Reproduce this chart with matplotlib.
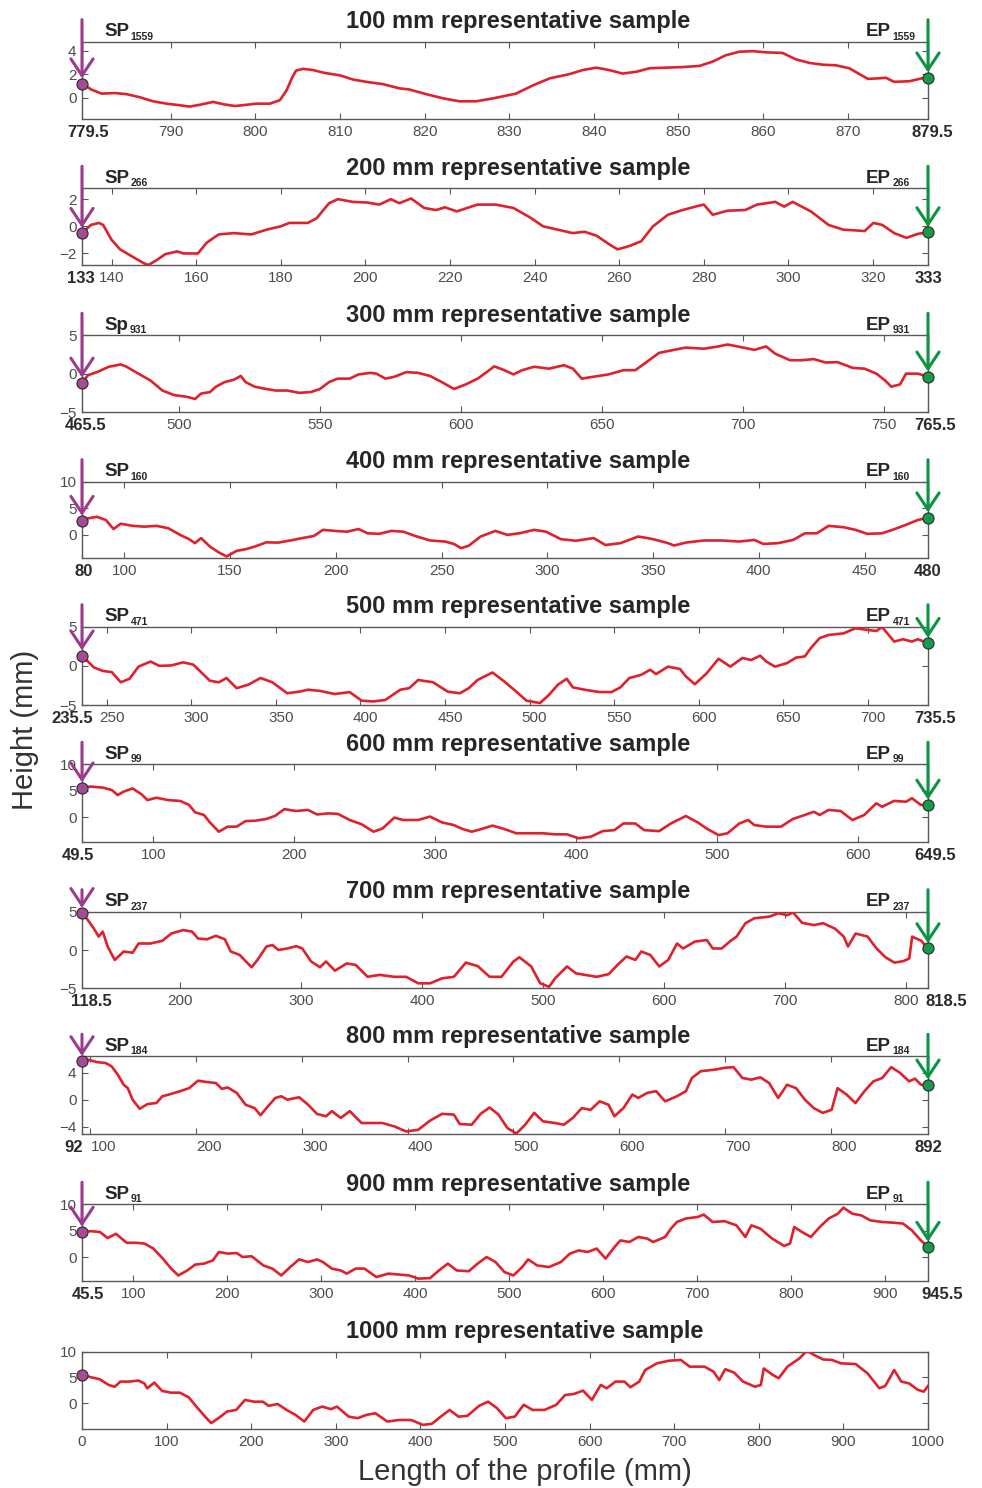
import matplotlib.pyplot as plt
from matplotlib.transforms import ScaledTranslation

plt.rcParams['font.family'] = ['Liberation Sans', 'DejaVu Sans']

# (position mm, height mm) read along each representative sample
p100 = [(779.5, 1.2), (780.6, 0.7), (781.8, 0.35), (783.4, 0.4), (784.8, 0.3), (786.3, 0.05),
        (787.9, -0.3), (789.5, -0.5), (790.7, -0.6), (792.2, -0.75), (793.4, -0.6), (795.0, -0.35),
        (796.2, -0.55), (797.6, -0.7), (798.9, -0.6), (800.1, -0.5), (801.7, -0.5), (802.9, -0.2),
        (803.7, 0.65), (804.3, 1.65), (804.8, 2.3), (805.6, 2.45), (806.8, 2.35), (808.2, 2.1),
        (810.0, 1.9), (811.5, 1.55), (813.1, 1.35), (815.1, 1.15), (817.0, 0.8), (818.2, 0.7),
        (820.2, 0.3), (822.2, -0.05), (824.1, -0.3), (826.1, -0.3), (828.1, -0.05), (830.8, 0.35),
        (832.8, 1.05), (834.8, 1.65), (837.1, 2.0), (838.7, 2.35), (840.3, 2.55), (841.8, 2.35),
        (843.4, 2.05), (845.0, 2.2), (846.6, 2.5), (848.5, 2.55), (850.5, 2.6), (852.5, 2.7),
        (854.0, 3.05), (855.6, 3.6), (857.2, 3.9), (858.8, 3.95), (860.3, 3.85), (862.3, 3.8),
        (863.9, 3.25), (865.5, 2.95), (867.1, 2.8), (868.6, 2.75), (870.2, 2.5), (871.4, 2.0),
        (872.4, 1.6), (873.8, 1.65), (874.5, 1.7), (875.5, 1.35), (877.3, 1.4), (878.8, 1.65),
        (879.5, 1.7)]

p200 = [(133, -0.5), (135.1, 0.1), (137, 0.25), (138, 0.1), (140, -1.0), (142, -1.7), (145, -2.25),
        (147.8, -2.75), (148.7, -2.85), (150.6, -2.5), (152.7, -2.05), (155.5, -1.85), (157, -2.0),
        (160.4, -2.0), (162.5, -1.2), (165.3, -0.6), (168.9, -0.5), (173, -0.6), (176.6, -0.25),
        (180, 0), (182, 0.25), (186.4, 0.25), (188.5, 0.6), (191.4, 1.7), (193.5, 2.0), (197, 1.8),
        (200.5, 1.75), (203.3, 1.6), (206, 2.0), (208, 1.7), (210.8, 2.05), (213.9, 1.35),
        (216.7, 1.2), (218.8, 1.4), (221.6, 1.1), (226.5, 1.6), (230.8, 1.6), (235, 1.35),
        (239.2, 0.6), (242, 0), (246.2, -0.3), (249, -0.5), (251.8, -0.4), (254.7, -0.7),
        (257.5, -1.3), (259.6, -1.7), (262.4, -1.45), (265.2, -1.1), (268, 0), (271.5, 0.85),
        (275, 1.2), (278.6, 1.5), (280, 1.6), (282.1, 0.85), (285.6, 1.15), (289.8, 1.2),
        (292.6, 1.6), (296.9, 1.8), (299, 1.45), (301, 1.8), (305.3, 1.1), (309.5, 0.1),
        (313, -0.25), (315.9, -0.3), (318, -0.35), (320.1, 0.25), (322.2, 0.1), (325, -0.5),
        (327.9, -0.85), (330.7, -0.55), (333, -0.45)]

p300 = [(465.5, -1.2), (467.6, -0.2), (470.8, 0.2), (475, 0.9), (479.2, 1.2), (481.3, 0.9),
        (485.5, 0), (489.8, -0.9), (494, -2.2), (498.2, -2.8), (502.4, -3.0), (505.6, -3.3),
        (507.7, -2.6), (510.9, -2.4), (513, -1.7), (516.1, -1.1), (519.3, -0.8), (521.8, -0.3),
        (523.5, -1.1), (526.7, -1.7), (530.9, -2.0), (534.1, -2.2), (538.3, -2.2), (542.5, -2.5),
        (546.7, -2.4), (549.9, -2.0), (553.1, -1.1), (556.2, -0.65), (560.4, -0.65), (563.6, -0.1),
        (567.8, 0.1), (569.9, 0), (573.1, -0.65), (576.3, -0.4), (580.5, 0.2), (584.7, 0.1),
        (588.9, -0.3), (593.1, -1.1), (597.4, -2.0), (601.6, -1.4), (605.8, -0.65), (609, 0.2),
        (611.7, 0.95), (615.3, 0.45), (618.5, -0.1), (621.6, 0.45), (625.8, 0.9), (631.1, 0.65),
        (636.4, 1.1), (639.6, 0.65), (642.7, -0.65), (646.9, -0.4), (652.2, -0.1), (657.5, 0.45),
        (661.7, 0.45), (664.9, 1.3), (670.1, 2.7), (675.4, 3.1), (679.6, 3.4), (686, 3.25),
        (691.2, 3.55), (694.4, 3.8), (698.6, 3.5), (703.9, 3.1), (708.1, 3.55), (711.3, 2.6),
        (716.6, 1.75), (720.8, 1.75), (725, 1.9), (729.2, 1.45), (733.4, 1.5), (738.8, 0.75),
        (743, 0.65), (747.2, 0), (750.3, -0.9), (752.5, -1.7), (755.6, -1.4), (757.7, 0),
        (761.9, 0), (765.5, -0.4)]

p400 = [(80, 2.6), (82.8, 3.1), (87, 3.4), (91.3, 2.8), (94.9, 1.1), (98.3, 2.1), (103.9, 1.7),
        (109.5, 1.55), (115.2, 1.7), (120.8, 1.25), (126.4, 0), (130.6, -0.8), (133.4, -1.55),
        (136.3, -0.6), (140.5, -2.2), (144.7, -3.3), (148.4, -4.05), (153.1, -3.0), (157.4, -2.7),
        (161.6, -2.2), (167.2, -1.4), (172.8, -1.45), (178.5, -1.05), (184.1, -0.6), (189.7, -0.2),
        (193.9, 0.95), (199.5, 0.75), (205.2, 0.6), (210.8, 1.1), (215, 0.3), (220.6, 0.2),
        (226.3, 0.75), (231.9, 0.6), (237.5, -0.2), (244.6, -1.05), (251.6, -1.25), (255.8, -1.7),
        (259.2, -2.5), (262.8, -2.05), (268.5, -0.3), (275.5, 0.75), (281.1, 0), (286.8, 0.3),
        (293.8, 0.95), (299.4, 0.6), (306.4, -0.8), (313.5, -1.1), (321.9, -0.6), (327.5, -1.9),
        (334.6, -1.55), (343, -0.3), (350, -0.8), (357.1, -1.55), (359.9, -2.0), (365.5, -1.45),
        (374, -1.05), (382.4, -1.05), (390.8, -1.25), (397.9, -0.95), (402.1, -1.7), (409.1, -1.55),
        (416.2, -0.95), (421.8, 0.3), (427.4, 0.3), (433, 1.7), (440, 1.45), (445.7, 0.95),
        (451.3, 0.2), (458.3, 0.3), (463.9, 1.05), (469.6, 1.9), (475.2, 2.8), (480, 3.25)]

p500 = [(235.5, 1.3), (239, 0.55), (242.5, -0.2), (247.8, -0.65), (253.1, -0.8), (258.4, -2.1),
        (263.6, -1.65), (268.9, -0.1), (276, 0.55), (281.2, 0), (288.2, 0.05), (295.3, 0.45),
        (301.3, 0.15), (305.8, -0.8), (311.1, -1.9), (316.4, -2.1), (320.9, -1.55), (326.9, -2.85),
        (333.9, -2.4), (341, -1.55), (348, -2.1), (356.8, -3.5), (363.8, -3.3), (369.1, -3.05),
        (376.1, -3.2), (384.9, -3.6), (393.7, -3.35), (400.8, -4.45), (407.8, -4.55), (414.8, -4.35),
        (423.6, -3.05), (428.9, -2.85), (434.2, -1.8), (443, -2.1), (451.7, -3.3), (458.8, -3.5),
        (464.1, -2.85), (469.3, -1.8), (478.1, -0.85), (485.1, -2.0), (492.2, -3.3), (498.2, -4.45),
        (506.2, -4.75), (511.5, -3.7), (516.8, -2.4), (522, -1.65), (525.6, -2.75), (532.6, -3.05),
        (541.4, -3.35), (548.4, -3.35), (553.7, -2.75), (559, -1.55), (566, -1.15), (571.3, -0.5),
        (574.8, -1.05), (581.8, -0.1), (588.9, -0.4), (592.4, -1.35), (597.7, -2.35), (604.7, -0.95),
        (611.7, 0.9), (618.7, -0.1), (625.8, 1.0), (631, 0.75), (636.3, 1.3), (639.9, 0.55),
        (645.1, -0.1), (652.2, 0.35), (657.5, 1.05), (662.7, 1.2), (666.2, 2.25), (671.5, 3.55),
        (676.8, 3.95), (685.6, 4.15), (692.6, 4.8), (699.6, 4.6), (704.9, 4.45), (708.4, 4.95),
        (715.5, 3.1), (720.7, 3.4), (726, 3.1), (729.5, 3.4), (735.5, 2.9)]

p600 = [(49.5, 5.6), (55.8, 5.8), (64.3, 5.6), (70.6, 5.15), (74.8, 4.2), (79, 4.85), (85.4, 5.45),
        (91.7, 4.35), (95.9, 3.25), (102.2, 3.7), (110.7, 3.25), (119.1, 3.1), (125.4, 2.35),
        (129.7, 0.95), (136, 0.45), (140.2, -0.95), (146.5, -2.7), (152.9, -1.75), (159.2, -1.75),
        (165.5, -0.7), (171.9, -0.65), (180.3, -0.3), (186.6, 0.3), (193, 1.55), (201.4, 1.2),
        (209.8, 1.4), (216.2, 0.55), (224.6, 0.75), (231, 0.65), (239.4, -0.5), (247.8, -1.3),
        (256.2, -2.7), (262.6, -2.1), (271, -0.05), (277.4, -0.5), (287.9, -0.5), (296.3, 0.15),
        (304.8, -0.95), (313.2, -1.45), (319.5, -2.2), (325.9, -2.7), (332.2, -2.25), (340.6, -1.55),
        (349, -2.2), (357.5, -3.0), (365.9, -3.0), (376.5, -3.0), (384.9, -3.2), (393.4, -3.2),
        (401.8, -3.95), (410.3, -3.65), (418.7, -2.6), (427.1, -2.4), (433.5, -1.15), (441.9, -1.15),
        (448.2, -2.4), (458.8, -2.6), (467.2, -1.15), (477.7, 0.25), (486.2, -0.95), (492.5, -2.1),
        (500.9, -3.35), (507.3, -3.0), (515.7, -1.15), (522, -0.5), (526.3, -1.45), (534.7, -1.75),
        (545.2, -1.75), (553.7, -0.3), (562.1, 0.45), (568.5, 1.05), (572.7, 0.45), (579, 1.4),
        (587.5, 1.2), (595.9, -0.5), (604.3, 0.45), (612.8, 2.65), (617, 2.0), (625.4, 3.1),
        (633.9, 2.95), (638.1, 3.6), (644.4, 2.35), (649.5, 2.35)]

p700 = [(118.5, 4.8), (123.4, 3.9), (128.3, 2.8), (132.3, 1.75), (135.7, 2.4), (139.7, 0.45),
        (145.6, -1.3), (153, -0.2), (160.4, -0.35), (165.3, 0.85), (175.1, 0.85), (185, 1.2),
        (192.4, 2.15), (202.2, 2.6), (209.6, 2.4), (214.5, 1.5), (221.9, 1.4), (229.3, 1.85),
        (236.7, 1.4), (241.6, -0.2), (249, -0.65), (258.8, -2.25), (263.7, -1.3), (271.1, 0.45),
        (276.1, 0.65), (281, 0), (288.4, 0.2), (295.8, 0.5), (300.7, 0.2), (308.1, -1.5),
        (315.4, -2.25), (320.4, -1.5), (327.8, -2.7), (337.6, -1.75), (345, -1.95), (354.8, -3.5),
        (364.7, -3.25), (377, -3.5), (386.8, -3.5), (396.7, -4.35), (406.5, -4.35), (416.4, -3.7),
        (426.2, -3.5), (436.1, -1.65), (445.9, -2.1), (455.8, -3.5), (465.6, -3.5), (475.5, -1.5),
        (480.4, -0.95), (490.2, -2.15), (497.6, -4.35), (505, -4.8), (509.9, -3.7), (519.8, -2.15),
        (527.2, -3.05), (534.6, -3.25), (544.4, -3.5), (554.3, -3.15), (561.6, -1.95), (569, -0.85),
        (576.4, -1.3), (581.3, -0.2), (588.7, -0.65), (596.1, -2.15), (603.5, -1.3), (610.9, 0.85),
        (615.8, 0.2), (625.7, 1.1), (635.5, 1.3), (640.4, 0.2), (647.8, 0.2), (655.2, 1.2),
        (660.1, 1.75), (667.5, 3.5), (674.9, 4.15), (687.2, 4.35), (694.6, 4.8), (702, 4.55),
        (706.9, 4.9), (714.3, 3.55), (724.2, 3.25), (731.6, 3.5), (741.4, 2.8), (748.8, 1.75),
        (752.3, 0.45), (758.6, 2.15), (768.5, 1.75), (775.9, 0.2), (783.3, -0.95), (790.7, -1.65),
        (798.1, -1.45), (803, -1.1), (805.4, 1.75), (812.9, 1.2), (818.5, 0.2)]

p800 = [(92, 5.65), (97.6, 5.9), (106, 5.55), (114.5, 5.4), (120.1, 4.9), (125.8, 3.7), (131.4, 2.2),
        (135.3, 1.7), (139.8, 0), (146.6, -1.35), (153.9, -0.65), (162.3, -0.5), (168, 0.5),
        (176.4, 0.85), (184.8, 1.25), (193.3, 1.7), (201.7, 2.8), (210.2, 2.6), (218.6, 2.45),
        (224.2, 1.6), (229.8, 1.8), (238.3, 1.0), (246.7, -0.75), (255.2, -1.25), (260.8, -2.3),
        (266.4, -1.25), (274.8, 0.25), (280.5, 0.5), (286.1, 0), (297.4, 0.35), (305.8, -0.75),
        (314.2, -2.1), (322.7, -2.45), (328.3, -1.7), (336.7, -2.7), (345.2, -1.7), (356.4, -3.45),
        (364.9, -3.45), (376.1, -3.45), (387.4, -3.95), (398.6, -4.7), (409.9, -4.45), (421.1, -3.1),
        (432.4, -2.1), (443.6, -2.2), (449.2, -3.6), (460.5, -3.7), (468.9, -2.1), (477.4, -1.15),
        (485.8, -2.2), (494.3, -4.2), (502.7, -5.0), (511.1, -3.7), (519.6, -1.95), (528, -3.2),
        (539.3, -3.45), (547.7, -3.7), (556.1, -2.7), (564.6, -1.25), (573, -1.5), (581.5, -0.25),
        (589.9, -0.75), (595.5, -2.45), (604, -1.25), (612.4, 0.75), (618, 0.25), (626.5, 1.0),
        (634.9, 1.25), (643.4, -0.25), (654.6, 0.5), (663.1, 1.25), (668.7, 3.2), (677.2, 4.2),
        (691.2, 4.45), (699.6, 4.7), (708.1, 4.8), (716.5, 3.2), (725, 2.95), (733.4, 3.3),
        (741.8, 2.45), (750.3, 0.25), (758.7, 2.2), (767.2, 1.7), (775.6, 0), (784, -1.25),
        (792.5, -1.95), (800.9, -1.5), (806.5, 1.7), (815, 0.75), (823.4, -0.5), (831.9, 1.25),
        (840.3, 2.7), (848.7, 3.2), (857.2, 4.8), (865.6, 3.95), (874.1, 2.7), (879.7, 3.1),
        (885.4, 2.2), (892, 2.2)]

p900 = [(45.5, 4.75), (55, 4.9), (64.5, 4.75), (72.7, 3.6), (81.6, 4.4), (93, 2.7), (102.5, 2.7),
        (112, 2.55), (121.4, 1.6), (132.2, -0.45), (140.4, -2.2), (148, -3.5), (157.5, -2.55),
        (165.8, -1.45), (175.2, -1.25), (184.7, -0.65), (191.1, 0.95), (200.6, 0.65), (210, 0.75),
        (216.4, 0), (225.9, 0.15), (238.5, -1.6), (248, -2.2), (257.5, -3.5), (267, -1.9),
        (276.5, -0.45), (286, -0.95), (295.5, -0.45), (301.8, -0.95), (311.3, -2.2), (320.8, -2.55),
        (327.1, -3.15), (336.6, -2.2), (346, -2.2), (358.7, -3.8), (371.4, -3.15), (384.1, -3.35),
        (393.6, -3.5), (403.1, -4.1), (415.8, -4.0), (425.2, -2.55), (434.7, -1.25), (444.2, -2.55),
        (456.9, -2.7), (466.4, -1.25), (475.9, 0), (485.4, -0.95), (494.9, -2.85), (504.4, -3.5),
        (513.8, -1.9), (520.2, -0.45), (529.7, -1.6), (542.3, -1.9), (555, -0.95), (564.5, 0.65),
        (574, 1.25), (583.5, 0.95), (593, 1.6), (602.5, -0.3), (612, 1.9), (618.3, 3.15),
        (627.8, 2.85), (637.3, 3.8), (646.8, 3.5), (653.1, 2.85), (665.8, 3.8), (672.1, 5.4),
        (678.4, 6.65), (687.9, 7.3), (700.6, 7.6), (706.9, 8.05), (716.4, 6.65), (729.1, 6.8),
        (741.7, 6.0), (751.2, 3.8), (757.6, 6.0), (767, 5.4), (779.7, 3.5), (792.4, 2.1),
        (798.7, 2.55), (803.2, 5.7), (811.4, 4.75), (820.9, 3.8), (830.4, 5.7), (839.8, 7.3),
        (849.4, 8.2), (855.6, 9.35), (865.1, 8.2), (874.6, 7.9), (884.1, 6.95), (896.8, 6.65),
        (909.4, 6.5), (918.9, 6.35), (928.4, 5.05), (937.9, 3.15), (945.5, 1.9)]

p1000 = [(0, 5.5), (10.5, 5.05), (21, 4.65), (31.5, 3.55), (38.5, 3.2), (45.5, 4.2), (56.1, 4.2),
         (66.6, 4.4), (73.6, 3.85), (77.1, 2.9), (85.5, 4.0), (94.6, 2.4), (105.1, 2.05),
         (115.6, 2.05), (126.1, 1.15), (136.7, -0.95), (147.2, -2.9), (152.8, -3.85), (161.2, -2.9),
         (171.7, -1.6), (182.2, -1.3), (192.7, 0.65), (203.2, 0.3), (213.7, 0.3), (220.7, -0.5),
         (231.3, -0.15), (241.8, -1.3), (252.3, -2.25), (262.8, -3.55), (273.3, -1.3), (283.8, -0.65),
         (294.3, -1.15), (301.3, -0.65), (315.3, -2.6), (325.9, -2.9), (336.4, -2.25), (346.9, -1.95),
         (360.9, -3.55), (374.9, -3.25), (388.9, -3.25), (403, -4.2), (413.5, -4.0), (424, -2.6),
         (434.5, -1.3), (445, -2.6), (455.5, -2.45), (469.5, -0.5), (480, 0.3), (490.5, -0.95),
         (501, -2.9), (511.6, -2.6), (522.1, -0.3), (532.6, -1.3), (546.6, -1.3), (560.6, -0.3),
         (571.1, 1.6), (581.6, 1.8), (592.2, 2.45), (602.7, 0.65), (613.2, 3.55), (620.2, 2.9),
         (630.7, 4.2), (641.2, 4.2), (648.2, 3.1), (658.7, 4.2), (665.7, 6.45), (679.7, 7.75),
         (693.8, 8.25), (707.8, 8.4), (718.3, 7.1), (735.8, 7.1), (746.3, 6.15), (753.3, 4.5),
         (760.3, 6.6), (770.8, 5.95), (781.4, 4.2), (795.4, 3.2), (802.4, 3.55), (805.9, 6.75),
         (816.4, 5.5), (823.5, 4.85), (833.9, 7.1), (848, 8.7), (857, 10.2), (865.4, 9.35),
         (876, 8.5), (886.5, 8.4), (897, 7.75), (914.5, 7.6), (928.5, 5.8), (942.5, 2.9),
         (949.5, 3.35), (960, 6.45), (968.4, 4.2), (977.6, 3.85), (988, 2.6), (995, 2.25),
         (1000, 3.35)]

lengths = [100, 200, 300, 400, 500, 600, 700, 800, 900, 1000]
profiles = [p100, p200, p300, p400, p500, p600, p700, p800, p900, p1000]
point_ids = [1559, 266, 931, 160, 471, 99, 237, 184, 91, None]
start_tags = ['SP', 'SP', 'Sp', 'SP', 'SP', 'SP', 'SP', 'SP', 'SP', None]
spans = [(779.5, 879.5), (133, 333), (465.5, 765.5), (80, 480), (235.5, 735.5),
         (49.5, 649.5), (118.5, 818.5), (92, 892), (45.5, 945.5), (0, 1000)]
x_ticks = [range(790, 871, 10), range(140, 321, 20), range(500, 751, 50), range(100, 451, 50),
           range(250, 701, 50), range(100, 601, 100), range(200, 801, 100), range(100, 801, 100),
           range(100, 901, 100), range(0, 1001, 100)]
y_ticks = [[0, 2, 4], [-2, 0, 2], [-5, 0, 5], [0, 5, 10], [-5, 0, 5],
           [0, 5, 10], [-5, 0, 5], [-4, 0, 4], [0, 5, 10], [0, 5, 10]]
y_lims = [(-1.8, 4.75), (-2.85, 2.8), (-5, 5), (-4.4, 10), (-5, 5),
          (-4.7, 10), (-5, 5), (-5.07, 6.4), (-4.55, 10), (-5, 10)]

# axes frames in pixels (top, bottom) on a 982 x 1488 canvas
W, H = 982, 1488
LEFT, RIGHT = 82, 928
frames = [(41.7, 119), (188.3, 265), (335.3, 412), (481.7, 558.3), (626.7, 705),
          (764.3, 842.3), (911.7, 988.3), (1056.3, 1134), (1204.3, 1281), (1351.7, 1429)]
# horizontal nudges (px): bold start/end labels, then the regular tick labels
end_shift = [(6, 4), (-1, 0), (4, 7), (2, 0), (-10, 7), (-4, 7), (9, 18), (-8, 0), (6, 14), (0, 0)]
mid_shift = [0, 0, 0, 0, 5, 0, 0, 13, 0, 0]

RED = '#E0202A'
PURPLE = '#9C3B8C'
PURPLE_DOT = '#A54A94'
GREEN = '#0A9444'
GREEN_DOT = '#179A4C'
AXIS = '#585858'


def nudge(label, dx):
    label.set_transform(label.get_transform() +
                        ScaledTranslation(dx / 100, 0, fig.dpi_scale_trans))


fig = plt.figure(figsize=(W / 100, H / 100), dpi=100)

for i in range(len(lengths)):
    top, bot = frames[i]
    hpx = bot - top
    ax = fig.add_axes([LEFT / W, 1 - bot / H, (RIGHT - LEFT) / W, hpx / H])
    xs, hs = zip(*profiles[i])
    x0, x1 = spans[i]
    ax.plot(xs, hs, color=RED, lw=1.9, zorder=3, solid_joinstyle='round')
    ax.set_xlim(x0, x1)
    ax.set_ylim(*y_lims[i])

    ticks = sorted(set([x0, x1] + list(x_ticks[i])))
    ax.set_xticks(ticks)
    ax.set_xticklabels([f'{t:g}' for t in ticks])
    ax.set_yticks(y_ticks[i])
    ax.tick_params(direction='in', length=4, width=0.8, color=AXIS, top=True, right=True,
                   labelsize=11, labelcolor='#4d4d4d', pad=4)
    for s in ax.spines.values():
        s.set_color(AXIS)
        s.set_linewidth(1.0)

    labels = ax.get_xticklabels()
    if point_ids[i] is not None:
        for lab, dx in ((labels[0], end_shift[i][0]), (labels[-1], end_shift[i][1])):
            lab.set_fontweight('bold')
            lab.set_fontsize(12)
            lab.set_color('#2b2b2b')
            nudge(lab, dx)
        if mid_shift[i]:
            for lab in labels[1:-1]:
                nudge(lab, mid_shift[i])

    # titles share a common left edge
    ax.text((346 - LEFT) / (RIGHT - LEFT), 1 + 13.5 / hpx,
            f'{lengths[i]} mm representative sample',
            transform=ax.transAxes, ha='left', va='baseline',
            fontsize=17, fontweight='bold', color='#262626')

    # start point marker; sub-samples also get end marker, arrows and SP/EP tags
    ax.plot([xs[0]], [hs[0]], 'o', ms=8, mfc=PURPLE_DOT, mec='#2b2b2b', mew=0.8,
            clip_on=False, zorder=7)
    if point_ids[i] is None:
        continue
    ax.plot([xs[-1]], [hs[-1]], 'o', ms=8, mfc=GREEN_DOT, mec='#2b2b2b', mew=0.8,
            clip_on=False, zorder=7)

    tail = 1 + 22 / hpx
    for x, y, c in ((xs[0], hs[0], PURPLE), (xs[-1], hs[-1], GREEN)):
        ax.annotate('', xy=(x, y), xycoords='data',
                    xytext=(x, tail), textcoords=ax.get_xaxis_transform(),
                    arrowprops=dict(arrowstyle='->,head_length=0.6,head_width=0.4',
                                    color=c, lw=2.2, shrinkA=0, shrinkB=3.8,
                                    mutation_scale=20),
                    annotation_clip=False, zorder=6)

    for tag, xf in ((start_tags[i], 0.026), ('EP', 0.9267)):
        t = ax.text(xf, 1 + 5.5 / hpx, tag, transform=ax.transAxes, ha='left', va='baseline',
                    fontsize=13.5, fontweight='bold', color='#262626')
        ax.annotate(str(point_ids[i]), xy=(1, 0), xycoords=t, xytext=(1.2, 0.3),
                    textcoords='offset points', ha='left', va='baseline',
                    fontsize=7.5, fontweight='bold', color='#262626')

fig.text(25 / W, 1 - 730 / H, 'Height (mm)', rotation=90, ha='center', va='center',
         fontsize=21, color='#333333')
fig.text(525 / W, 1 - 1472 / H, 'Length of the profile (mm)', ha='center', va='center',
         fontsize=21, color='#333333')

fig.savefig('out.png', dpi=100)
